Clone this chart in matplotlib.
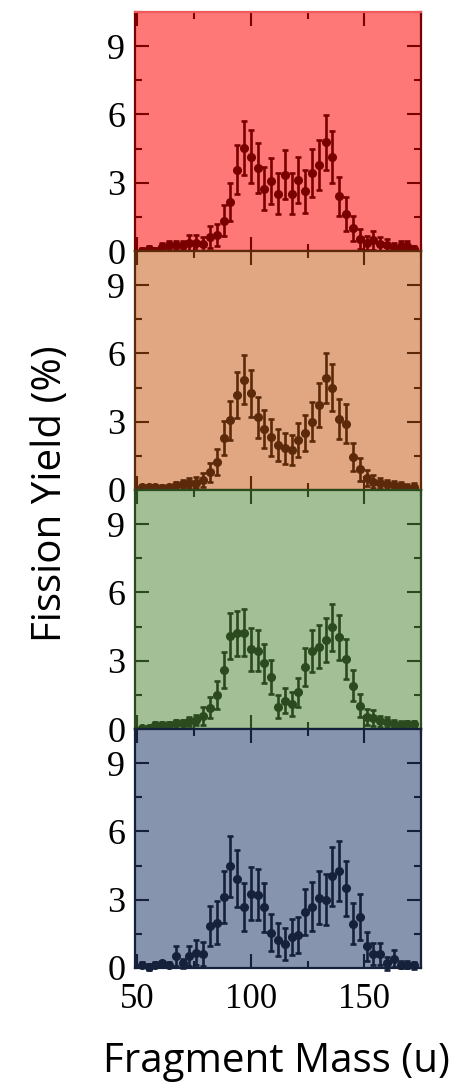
import matplotlib
matplotlib.use("Agg")
import matplotlib.pyplot as plt
from matplotlib.ticker import MultipleLocator


# =========================
# DATA
# =========================
mass = [52, 55, 58, 61, 64, 67, 70, 73, 76, 79, 82, 85, 88, 91, 94, 97, 100,
        103, 106, 109, 112, 115, 118, 121, 124, 127, 130, 133, 136, 139, 142,
        145, 148, 151, 154, 157, 160, 163, 166, 169, 172]

yield_1 = [0.00, 0.10, 0.00, 0.19, 0.27, 0.27, 0.27, 0.34, 0.34, 0.30, 0.62,
           0.70, 1.33, 2.15, 3.58, 4.52, 4.15, 3.63, 2.74, 3.08, 2.52, 3.36,
           2.52, 3.11, 2.62, 3.44, 3.78, 4.77, 4.12, 2.40, 1.63, 0.99, 0.52,
           0.34, 0.47, 0.30, 0.27, 0.15, 0.20, 0.20, 0.10]
err_1 = [0.12, 0.12, 0.12, 0.16, 0.17, 0.17, 0.17, 0.37, 0.38, 0.33, 0.48,
         0.50, 0.67, 0.83, 1.07, 1.19, 1.17, 1.10, 0.95, 1.00, 0.90, 1.06,
         0.91, 1.00, 0.93, 1.05, 1.11, 1.22, 1.15, 0.87, 0.74, 0.56, 0.44,
         0.30, 0.42, 0.30, 0.26, 0.19, 0.22, 0.22, 0.12]

yield_2 = [0.14, 0.14, 0.12, 0.10, 0.12, 0.20, 0.26, 0.29, 0.32, 0.44, 0.78,
           1.24, 2.27, 3.07, 4.17, 4.85, 4.24, 3.19, 2.68, 2.31, 1.97, 1.83,
           1.75, 2.19, 2.51, 3.00, 3.73, 4.94, 4.50, 3.10, 2.92, 1.46, 0.91,
           0.51, 0.37, 0.29, 0.25, 0.20, 0.17, 0.10, 0.14]
err_2 = [0.10, 0.10, 0.10, 0.10, 0.10, 0.15, 0.18, 0.22, 0.25, 0.29, 0.42,
         0.57, 0.75, 0.86, 1.02, 1.09, 1.02, 0.91, 0.84, 0.80, 0.70, 0.68,
         0.65, 0.75, 0.80, 0.85, 0.96, 1.10, 1.04, 0.88, 0.85, 0.61, 0.51,
         0.35, 0.30, 0.22, 0.20, 0.18, 0.16, 0.15, 0.15]

yield_3 = [0.05, 0.05, 0.18, 0.18, 0.18, 0.26, 0.26, 0.33, 0.40, 0.57, 0.94,
           1.50, 2.59, 4.08, 4.20, 4.23, 3.51, 3.44, 2.89, 2.27, 0.98, 1.25,
           1.09, 1.61, 2.71, 3.43, 3.61, 3.91, 4.46, 4.03, 3.06, 1.90, 1.03,
           0.54, 0.47, 0.33, 0.29, 0.21, 0.18, 0.22, 0.22]
err_3 = [0.05, 0.05, 0.12, 0.12, 0.13, 0.15, 0.15, 0.18, 0.22, 0.38, 0.46,
         0.60, 0.80, 1.00, 1.00, 1.03, 0.94, 0.91, 0.85, 0.75, 0.51, 0.55,
         0.53, 0.64, 0.83, 0.93, 0.95, 0.98, 1.04, 1.00, 0.88, 0.68, 0.50,
         0.36, 0.35, 0.25, 0.22, 0.20, 0.18, 0.15, 0.15]

yield_4 = [0.15, 0.05, 0.15, 0.20, 0.15, 0.51, 0.20, 0.51, 0.67, 0.62, 1.84,
           1.99, 3.11, 4.47, 3.92, 2.67, 3.26, 3.22, 2.67, 1.55, 1.24, 1.04,
           1.36, 1.46, 2.45, 2.70, 3.09, 3.00, 4.02, 4.26, 3.51, 1.95, 2.24,
           0.96, 0.60, 0.60, 0.20, 0.41, 0.15, 0.15, 0.12]
err_4 = [0.12, 0.12, 0.12, 0.12, 0.12, 0.44, 0.20, 0.44, 0.55, 0.54, 0.87,
         0.94, 1.14, 1.35, 1.26, 1.06, 1.17, 1.13, 1.08, 0.81, 0.72, 0.71,
         0.78, 0.80, 1.02, 1.08, 1.15, 1.11, 1.30, 1.30, 1.21, 0.91, 0.99,
         0.64, 0.49, 0.48, 0.27, 0.38, 0.15, 0.15, 0.15]

yields = [yield_1, yield_2, yield_3, yield_4]
errors = [err_1, err_2, err_3, err_4]

y_ticks = [0, 3, 6, 9]
x_ticks = [50, 100, 150]

# panel colours (background, dark marks)
bg_colors = ["#FF7878", "#E0A782", "#A3BF96", "#8794AD"]
fg_colors = ["#7A0000", "#5C2A0A", "#2B4A1E", "#15203A"]


# =========================
# FIGURE
# =========================
W, H = 470, 1084
fig = plt.figure(figsize=(W / 100, H / 100), dpi=100)

LEFT, RIGHT = 135, 421
TOP, PANEL_H = 12, 239

serif = ["Liberation Serif", "DejaVu Serif"]

axes = []
for i in range(4):
    top_px = TOP + PANEL_H * i
    ax = fig.add_axes([LEFT / W, 1 - (top_px + PANEL_H) / H,
                       (RIGHT - LEFT) / W, PANEL_H / H])
    ax.set_facecolor(bg_colors[i])

    ax.errorbar(mass, yields[i], yerr=errors[i], fmt="o",
                color=fg_colors[i], ms=5.5, elinewidth=1.9,
                capsize=2, capthick=1.9, clip_on=False, zorder=3)

    ax.set_xlim(49, 175)
    ax.set_ylim(0, 10.5)

    ax.xaxis.set_major_locator(MultipleLocator(50))
    ax.xaxis.set_minor_locator(MultipleLocator(25))
    ax.set_yticks(y_ticks)
    ax.yaxis.set_minor_locator(MultipleLocator(1.5))

    ax.tick_params(which="both", direction="in", top=True, right=True,
                   color=fg_colors[i], width=1.5)
    ax.tick_params(which="major", length=10)
    ax.tick_params(which="minor", length=5)
    ax.tick_params(axis="y", labelsize=26, pad=7)
    ax.tick_params(axis="x", labelsize=25, pad=11)

    for lab in ax.get_yticklabels():
        lab.set_family(serif)

    if i < 3:
        ax.set_xticklabels([])
    else:
        ax.set_xticks(x_ticks)
        for lab in ax.get_xticklabels():
            lab.set_family(serif)

    for sp in ax.spines.values():
        sp.set_color(fg_colors[i])
        sp.set_linewidth(1.6)
    if i == 0:
        ax.spines["top"].set_color("#F05A5A")

    axes.append(ax)

fig.text(51 / W, 1 - 494 / H, "Fission Yield (%)", rotation=90,
         ha="center", va="center", fontsize=29, family="Open Sans")
fig.text(276 / W, 1 - 1062 / H, "Fragment Mass (u)",
         ha="center", va="center", fontsize=29, family="Open Sans")

fig.savefig("out.png", dpi=100)
